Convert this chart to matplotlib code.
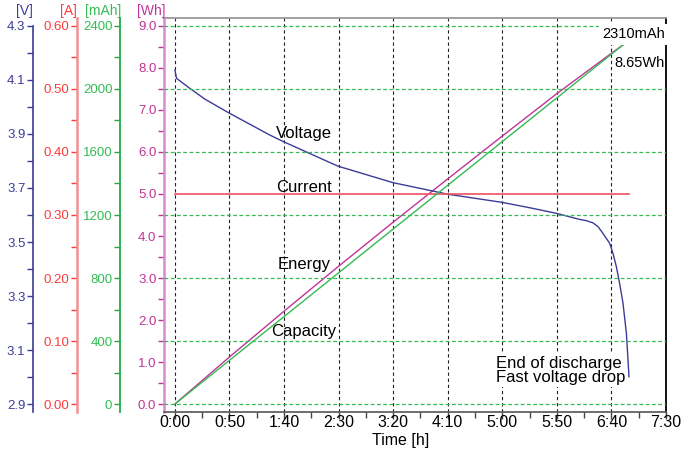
import numpy as np
import matplotlib.pyplot as plt
from matplotlib.ticker import MultipleLocator, FixedLocator, FuncFormatter

plt.rcParams['font.family'] = ['Liberation Sans', 'DejaVu Sans']

# discharge log (time in minutes)
t_volt = [0, 1.5, 13.7, 27.5, 49.5, 87, 99.8, 149.3, 199.6, 250, 274.7, 299.5, 325,
          349.8, 370.5, 377, 383, 387.7, 392.2, 398.4, 401.4, 404.5, 407.5, 410.6, 413.7, 416.1]
volt = [4.137, 4.106, 4.069, 4.029, 3.978, 3.896, 3.871, 3.781, 3.720, 3.677, 3.662, 3.647, 3.627,
        3.606, 3.584, 3.579, 3.571, 3.557, 3.532, 3.495, 3.458, 3.409, 3.347, 3.273, 3.162, 3.001]
t_curr = [0, 416]
curr = [0.333, 0.333]
t_cap = [0, 100, 200, 300, 416]
cap = [0, 555, 1111, 1666, 2310]
t_energy = [0, 50, 100, 150, 200, 250, 300, 350, 400, 416]
energy = [0, 1.12, 2.21, 3.28, 4.33, 5.36, 6.38, 7.39, 8.35, 8.65]

v_ticks = [2.9, 3.1, 3.3, 3.5, 3.7, 3.9, 4.1, 4.3]
v_minor = [3.0, 3.2, 3.4, 3.6, 3.8, 4.0, 4.2]

navy = '#3c3c98'
red_l = '#f39090'
red = '#ff3a3a'
green = '#22aa44'
green_l = '#33bb55'
mag_l = '#d88ad0'
mag = '#c03496'

fig = plt.figure(figsize=(6.88, 4.53), dpi=100)
ax = fig.add_axes([164/688, 41/453, 502/688, 394/453])

wh_lim = (-0.19, 9.19)
ax.set_xlim(-10, 450)
ax.set_ylim(wh_lim)

ax_v = ax.twinx()
ax_a = ax.twinx()
ax_c = ax.twinx()


def setup(tw, pos, spine_col, spine_w, tick_col, lab_col, lim, major, minor, fmt):
    tw.set_ylim(lim)
    tw.yaxis.tick_left()
    tw.spines['left'].set_visible(True)
    tw.spines['left'].set_position(('axes', pos))
    tw.spines['left'].set_color(spine_col)
    tw.spines['left'].set_linewidth(spine_w)
    for s in ['right', 'top', 'bottom']:
        tw.spines[s].set_visible(False)
    tw.yaxis.set_major_locator(major)
    tw.yaxis.set_minor_locator(minor)
    tw.yaxis.set_major_formatter(FuncFormatter(lambda v, p: fmt.format(v)))
    tw.tick_params(axis='y', which='both', colors=tick_col, labelcolor=lab_col,
                   length=4.5, width=1, pad=1, labelsize=9.5, direction='out')


setup(ax_v, -131/502, navy, 1.2, navy, navy,
      (2.9 + wh_lim[0]*1.4/9, 2.9 + wh_lim[1]*1.4/9),
      FixedLocator(v_ticks), FixedLocator(v_minor), '{:.1f}')
ax_v.spines['left'].set_bounds(2.9 + wh_lim[0]*1.4/9, 4.3)
setup(ax_a, -87/502, red_l, 1.8, red, red,
      (wh_lim[0]*0.6/9, wh_lim[1]*0.6/9), MultipleLocator(0.1), MultipleLocator(0.05), '{:.2f}')
setup(ax_c, -44/502, green, 1.3, green, green_l,
      (wh_lim[0]*2400/9, wh_lim[1]*2400/9), MultipleLocator(400), MultipleLocator(200), '{:.0f}')

# main (Wh) axis
ax.yaxis.set_major_locator(MultipleLocator(1.0))
ax.yaxis.set_minor_locator(MultipleLocator(0.5))
ax.yaxis.set_major_formatter(FuncFormatter(lambda v, p: '{:.1f}'.format(v)))
ax.tick_params(axis='y', which='both', colors=mag, labelcolor=mag,
               length=4.5, width=1, pad=1, labelsize=9.5)
ax.spines['left'].set_color(mag_l)
ax.spines['left'].set_linewidth(1.8)
ax.spines['top'].set_color('#999999')
ax.spines['top'].set_linewidth(1.3)
ax.spines['right'].set_color('black')
ax.spines['right'].set_linewidth(1.3)
ax.spines['bottom'].set_color('#555555')
ax.spines['bottom'].set_linewidth(1.2)

ax.xaxis.set_major_locator(MultipleLocator(50))
ax.xaxis.set_minor_locator(MultipleLocator(25))
ax.xaxis.set_major_formatter(FuncFormatter(lambda t, p: '{}:{:02d}'.format(int(t // 60), int(round(t % 60)))))
ax.tick_params(axis='x', which='major', length=5, width=1, color='#444444', labelsize=11.5, pad=-2.5)
ax.tick_params(axis='x', which='minor', length=4, width=1, color='#444444')
ax.set_xlabel('Time [h]', fontsize=11.5)
ax.xaxis.set_label_coords((401 - 164)/502, -0.054)

ax.xaxis.grid(True, color='#222222', ls=(0, (3, 2.5)), lw=0.8)
ax_c.yaxis.grid(True, color=green_l, ls=(0, (3, 2)), lw=0.9)

# series
ax.plot(t_energy, energy, color=mag, lw=1.0)
ax_v.plot(t_volt, volt, color=navy, lw=1.0)
ax_a.plot(t_curr, curr, color='#ee5060', lw=1.2)
ax_c.plot(t_cap, cap, color=green_l, lw=1.0)

# annotations
tr = ax.transData
for txt, y in [('Voltage', 6.34), ('Current', 5.055), ('Energy', 3.207), ('Capacity', 1.626)]:
    ax_c.text(118, y, txt, transform=tr, ha='center', va='baseline', fontsize=12)
ax_c.text(449, 8.707, '2310mAh', transform=tr, ha='right', va='baseline', fontsize=10.5,
          bbox=dict(boxstyle='square,pad=0.25', fc='white', ec='none'))
ax_c.text(449, 8.03, '8.65Wh', transform=tr, ha='right', va='baseline', fontsize=10.5)
ax_c.text(294, 0.516, 'End of discharge\nFast voltage drop', transform=tr, ha='left',
          va='baseline', fontsize=12, linespacing=0.95,
          bbox=dict(boxstyle='square,pad=0.1', fc='white', ec='none'))

# unit headers
for x, s, c in [(33, '[V]', navy), (77, '[A]', red), (121, '[mAh]', green_l), (165, '[Wh]', mag)]:
    fig.text(x/688, 1 - 11.5/453, s, ha='right', va='center', fontsize=10, color=c)

fig.savefig('out.png', dpi=100)
